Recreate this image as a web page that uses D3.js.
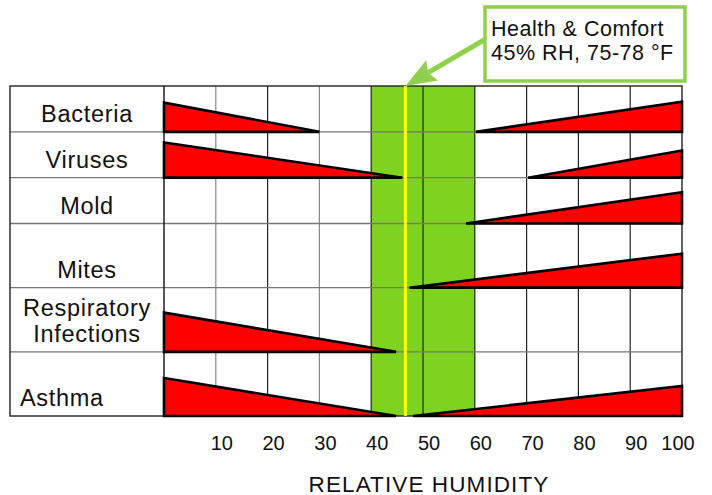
<!DOCTYPE html>
<html>
<head>
<meta charset="utf-8">
<script src="https://cdn.jsdelivr.net/npm/d3@7"></script>
<style>
  body { margin: 0; background: #fff; }
  text { font-family: "Liberation Sans", Arial, sans-serif; fill: #111; }
</style>
</head>
<body>
<script>
// chart values
var categories = ["Bacteria", "Viruses", "Mold", "Mites", "Respiratory Infections", "Asthma"];
// left wedge: risk falls off until this RH (null = none)
var lowEnd = [30, 46, null, null, 44.8, 44.8];
var lowSeverity = [7.3, 8.8, null, null, 9.8, 9.5];
// right wedge: risk starts at this RH and grows to 100
var highStart = [60.2, 70.3, 58.3, 47.4, null, 48.1];
var highSeverity = [7.5, 6.8, 7.8, 8.5, null, 7.5];
var comfortBand = [40, 60];
var comfortLine = 46.6;
var xTicks = [10, 20, 30, 40, 50, 60, 70, 80, 90, 100];
var calloutLines = ["Health & Comfort", "45% RH, 75-78 \u00B0F"];
var axisTitle = "RELATIVE HUMIDITY";

// layout
var width = 712, height = 495;
var tableLeft = 10, plotLeft = 164, plotRight = 682;
var plotTop = 86, plotBottom = 416;
var rowUnits = [1, 1, 1, 1.4, 1.4, 1.4];

var svg = d3.select("body").append("svg")
    .attr("width", width)
    .attr("height", height);

var x = d3.scaleLinear().domain([0, 100]).range([plotLeft, plotRight]);

// row boundaries from cumulative units
var cum = [0];
rowUnits.forEach(function(u, i) { cum.push(cum[i] + u); });
var yUnit = d3.scaleLinear().domain([0, cum[cum.length - 1]]).range([plotTop, plotBottom]);
var rowBottom = function(i) { return yUnit(cum[i + 1]); };

var sev = d3.scaleLinear().domain([0, 10]).range([0, 40]);

// comfort band
svg.append("rect")
    .attr("x", x(comfortBand[0]))
    .attr("y", plotTop)
    .attr("width", x(comfortBand[1]) - x(comfortBand[0]))
    .attr("height", plotBottom - plotTop)
    .attr("fill", "#7ed321");

// vertical grid
svg.selectAll("line.v")
    .data(xTicks.slice(0, -1))
    .enter().append("line")
    .attr("class", "v")
    .attr("x1", function(d) { return x(d); })
    .attr("x2", function(d) { return x(d); })
    .attr("y1", plotTop).attr("y2", plotBottom)
    .attr("stroke", function(d) { return (d == 10 || d == 30) ? "#888" : "#222"; })
    .attr("stroke-width", 1.2);

// horizontal grid (interior)
svg.selectAll("line.h")
    .data(d3.range(categories.length - 1))
    .enter().append("line")
    .attr("class", "h")
    .attr("x1", tableLeft).attr("x2", plotRight)
    .attr("y1", function(i) { return rowBottom(i); })
    .attr("y2", function(i) { return rowBottom(i); })
    .attr("stroke", "#777")
    .attr("stroke-width", 1.4);

// outer borders
svg.append("rect")
    .attr("x", tableLeft).attr("y", plotTop)
    .attr("width", plotRight - tableLeft)
    .attr("height", plotBottom - plotTop)
    .attr("fill", "none")
    .attr("stroke", "#222")
    .attr("stroke-width", 1.4);
svg.append("line")
    .attr("x1", x(0)).attr("x2", x(0))
    .attr("y1", plotTop).attr("y2", plotBottom)
    .attr("stroke", "#111").attr("stroke-width", 1.4);

// comfort line
svg.append("line")
    .attr("x1", x(comfortLine)).attr("x2", x(comfortLine))
    .attr("y1", plotTop).attr("y2", plotBottom)
    .attr("stroke", "#ffff00")
    .attr("stroke-width", 3);

// wedges
var wedges = [];
categories.forEach(function(c, i) {
    var b = rowBottom(i);
    if (lowEnd[i] != null) {
        var h = sev(lowSeverity[i]);
        wedges.push([[x(0), b], [x(0), b - h], [x(lowEnd[i]), b]]);
    }
    if (highStart[i] != null) {
        var h2 = sev(highSeverity[i]);
        wedges.push([[x(highStart[i]), b], [x(100), b - h2], [x(100), b]]);
    }
});

svg.selectAll("polygon")
    .data(wedges)
    .enter().append("polygon")
    .attr("points", function(d) { return d.map(function(p) { return p.join(","); }).join(" "); })
    .attr("fill", "#ff0000")
    .attr("stroke", "#000")
    .attr("stroke-width", 2.6)
    .attr("stroke-linejoin", "miter");

// row labels, sitting near the bottom of each row
categories.forEach(function(c, i) {
    var b = rowBottom(i) - 10;
    var words = c.split(" ");
    var isLast = i == categories.length - 1;
    var lx = isLast ? 20 : 87;
    var t = svg.append("text")
        .attr("font-size", 23.5)
        .attr("letter-spacing", 0.7)
        .attr("text-anchor", isLast ? "start" : "middle")
        .attr("x", lx)
        .attr("y", b - (words.length - 1) * 26);
    words.forEach(function(w, k) {
        t.append("tspan")
            .attr("x", lx)
            .attr("dy", k == 0 ? 0 : 26)
            .text(w);
    });
});

// tick labels
svg.selectAll("text.tick")
    .data(xTicks)
    .enter().append("text")
    .attr("class", "tick")
    .attr("x", function(d) { return Math.min(x(d) + 6, x(100) - 4); })
    .attr("y", 450)
    .attr("text-anchor", "middle")
    .attr("font-size", 20)
    .text(function(d) { return d; });

svg.append("text")
    .attr("x", 429)
    .attr("y", 492)
    .attr("text-anchor", "middle")
    .attr("font-size", 22.5)
    .attr("letter-spacing", 1.1)
    .text(axisTitle);

// callout box and arrow
var calloutGreen = "#8fd14f";
svg.append("rect")
    .attr("x", 485).attr("y", 7)
    .attr("width", 200).attr("height", 74)
    .attr("fill", "#fff")
    .attr("stroke", calloutGreen)
    .attr("stroke-width", 3.5);

calloutLines.forEach(function(s, k) {
    svg.append("text")
        .attr("x", 491)
        .attr("y", 36 + k * 23.5)
        .attr("font-size", 21.5)
        .attr("letter-spacing", 0.5)
        .text(s);
});

var tip = [x(comfortLine), plotTop];
var tail = [484, 40];
var ang = Math.atan2(tail[1] - tip[1], tail[0] - tip[0]);
var headLen = 33, headHalf = 0.36;
var neck = [tip[0] + Math.cos(ang) * headLen * 0.8, tip[1] + Math.sin(ang) * headLen * 0.8];
svg.append("line")
    .attr("x1", tail[0]).attr("y1", tail[1])
    .attr("x2", neck[0]).attr("y2", neck[1])
    .attr("stroke", calloutGreen)
    .attr("stroke-width", 5);
svg.append("polygon")
    .attr("points", [
        tip,
        [tip[0] + Math.cos(ang - headHalf) * headLen, tip[1] + Math.sin(ang - headHalf) * headLen],
        neck,
        [tip[0] + Math.cos(ang + headHalf) * headLen, tip[1] + Math.sin(ang + headHalf) * headLen]
    ].map(function(p) { return p.join(","); }).join(" "))
    .attr("fill", calloutGreen);
</script>
</body>
</html>
